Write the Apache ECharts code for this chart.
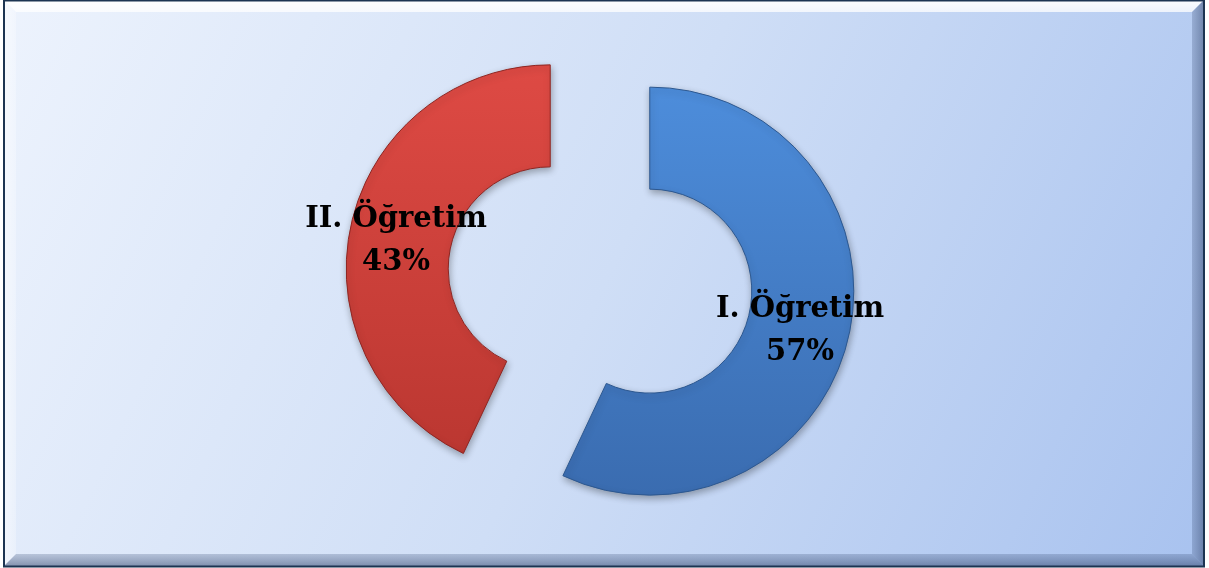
<!DOCTYPE html>
<html>
<head>
<meta charset="utf-8">
<script src="https://cdn.jsdelivr.net/npm/echarts@6/dist/echarts.min.js"></script>
<style>
html,body{margin:0;padding:0;background:#ffffff;}
#c{width:1209px;height:568px;}
</style>
</head>
<body>
<div id="c"></div>
<script>
const categories = ['I. Öğretim', 'II. Öğretim'];
const values = [57, 43];
const sliceColors = [
  ['#4d8ddb', '#3a6cb0', '#2d5890'],
  ['#de4a44', '#bb3731', '#8f2622']
];

const chart = echarts.init(document.getElementById('c'), null, {renderer: 'canvas'});

const fx = 4, fy = 0, fw = 1200, fh = 566, bw = 12;

const graphic = [
  {type: 'rect', shape: {x: fx, y: fy, width: fw, height: fh},
   style: {fill: new echarts.graphic.LinearGradient(0, 0, 1, 1, [
     {offset: 0, color: '#edf3fd'}, {offset: 0.5, color: '#cfdef6'}, {offset: 1, color: '#a8c2ef'}])}, z: 0},
  {type: 'polygon', shape: {points: [[fx, fy], [fx + fw, fy], [fx + fw - bw, fy + bw], [fx + bw, fy + bw]]},
   style: {fill: new echarts.graphic.LinearGradient(0, 0, 0, 1, [
     {offset: 0, color: 'rgba(255,255,255,0.95)'}, {offset: 1, color: 'rgba(255,255,255,0.75)'}])}, z: 1},
  {type: 'polygon', shape: {points: [[fx, fy], [fx + bw, fy + bw], [fx + bw, fy + fh - bw], [fx, fy + fh]]},
   style: {fill: new echarts.graphic.LinearGradient(0, 0, 1, 0, [
     {offset: 0, color: 'rgba(255,255,255,0.55)'}, {offset: 1, color: 'rgba(255,255,255,0.25)'}])}, z: 1},
  {type: 'polygon', shape: {points: [[fx + fw, fy], [fx + fw, fy + fh], [fx + fw - bw, fy + fh - bw], [fx + fw - bw, fy + bw]]},
   style: {fill: new echarts.graphic.LinearGradient(0, 0, 1, 0, [
     {offset: 0, color: 'rgba(60,80,120,0.25)'}, {offset: 1, color: 'rgba(40,60,100,0.5)'}])}, z: 1},
  {type: 'polygon', shape: {points: [[fx, fy + fh], [fx + fw, fy + fh], [fx + fw - bw, fy + fh - bw], [fx + bw, fy + fh - bw]]},
   style: {fill: new echarts.graphic.LinearGradient(0, 0, 0, 1, [
     {offset: 0, color: 'rgba(60,80,120,0.25)'}, {offset: 1, color: 'rgba(40,60,100,0.5)'}])}, z: 1},
  {type: 'rect', shape: {x: fx, y: fy + 0.5, width: fw, height: fh},
   style: {fill: 'none', stroke: '#1c3452', lineWidth: 2}, z: 2}
];

const data = categories.map((name, i) => ({
  name: name,
  value: values[i],
  selected: true,
  itemStyle: {
    color: new echarts.graphic.LinearGradient(0, 0, 0, 1, [
      {offset: 0, color: sliceColors[i][0]}, {offset: 1, color: sliceColors[i][1]}]),
    borderColor: sliceColors[i][2],
    borderWidth: 1
  }
}));

const txt = {
  color: '#000000',
  fontFamily: 'DejaVu Serif',
  fontWeight: 'bold',
  fontSize: 29,
  lineHeight: 43
};

chart.setOption({
  animation: false,
  graphic: graphic,
  series: [{
    type: 'pie',
    center: [600, 280],
    radius: [102, 204],
    startAngle: 90,
    clockwise: true,
    selectedMode: 'multiple',
    selectedOffset: 51,
    silent: true,
    emphasis: {disabled: true},
    itemStyle: {
      shadowBlur: 7,
      shadowColor: 'rgba(0,0,0,0.3)',
      shadowOffsetX: 1,
      shadowOffsetY: 3
    },
    label: {
      show: true,
      position: 'inside',
      formatter: '{s|}\n{t|{b}}\n{t|{d}%}',
      align: 'center',
      padding: [0, 4, 0, 0],
      rich: {
        s: {fontSize: 10, lineHeight: 12},
        t: txt
      }
    },
    labelLine: {show: false},
    data: data
  }]
});
</script>
</body>
</html>
